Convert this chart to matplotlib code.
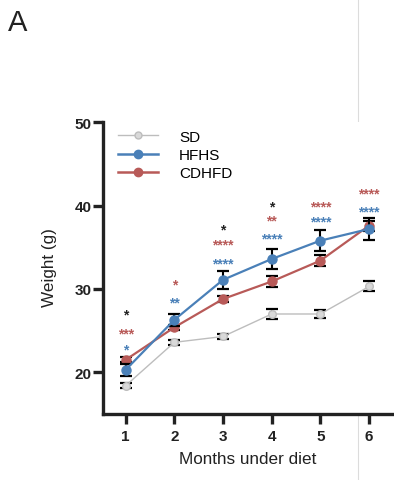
import matplotlib
matplotlib.use("Agg")
import matplotlib.pyplot as plt
from matplotlib.lines import Line2D

plt.rcParams['font.family'] = ['Liberation Sans', 'DejaVu Sans']

# Body weight over time for three diets (mean ± SEM)
months = [1, 2, 3, 4, 5, 6]
groups = ["SD", "HFHS", "CDHFD"]

sd_mean = [18.4, 23.6, 24.3, 27.0, 27.0, 30.3]
sd_err = [0.3, 0.3, 0.3, 0.6, 0.45, 0.6]

hfhs_mean = [20.3, 26.3, 31.1, 33.6, 35.8, 37.2]
hfhs_err = [0.7, 0.7, 1.1, 1.25, 1.3, 1.3]

cdhfd_mean = [21.5, 25.4, 28.8, 30.9, 33.4, 37.6]
cdhfd_err = [0.3, 0.3, 0.4, 0.7, 0.65, 0.6]

# Significance marks per month: (label, height in g)
hfhs_sig = [("*", 23.2), ("**", 28.9), ("****", 33.6), ("****", 36.6), ("****", 38.6), ("****", 39.8)]
cdhfd_sig = [("***", 25.2), ("*", 31.0), ("****", 35.8), ("**", 38.7), ("****", 40.4), ("****", 42.0)]
between_sig = [("*", 27.4), None, ("*", 37.6), ("*", 40.4), None, None]

y_ticks = [20, 30, 40, 50]

c_sd = "#bdbdbd"
c_hfhs = "#4a80b8"
c_cdhfd = "#b85a58"

fig = plt.figure(figsize=(3.94, 4.81), dpi=100)
ax = fig.add_axes([103.3 / 394, 66 / 481, (394 - 103.3) / 394, (415 - 123.3) / 481])

ax.errorbar(months, sd_mean, yerr=sd_err, color=c_sd, lw=1.0, marker="o", ms=5.5,
            mfc="#d9d9d9", mec=c_sd, ecolor="black", elinewidth=1.5, capsize=4, capthick=1.6,
            label=groups[0], zorder=3)
ax.errorbar(months, cdhfd_mean, yerr=cdhfd_err, color=c_cdhfd, lw=1.6, marker="o", ms=6.5,
            mfc=c_cdhfd, mec=c_cdhfd, ecolor="black", elinewidth=1.5, capsize=4, capthick=1.6,
            label=groups[2], zorder=4)
ax.errorbar(months, hfhs_mean, yerr=hfhs_err, color=c_hfhs, lw=1.6, marker="o", ms=6.5,
            mfc=c_hfhs, mec=c_hfhs, ecolor="black", elinewidth=1.5, capsize=4, capthick=1.6,
            label=groups[1], zorder=5)

def put_marks(marks, color):
    for m, item in zip(months, marks):
        if item is None:
            continue
        txt, yv = item
        ax.annotate(txt, (m, yv), xytext=(0, -5.8), textcoords="offset points",
                    ha="center", va="baseline", color=color, fontsize=10,
                    fontweight="bold")

put_marks(hfhs_sig, c_hfhs)
put_marks(cdhfd_sig, c_cdhfd)
put_marks(between_sig, "#222222")

ax.set_xlim(0.54, 6.513)
ax.set_ylim(15, 50)
ax.set_xticks(months)
ax.set_yticks(y_ticks)
ax.tick_params(axis="both", which="major", direction="out", width=2.4, colors="#222222",
               labelsize=11)
ax.tick_params(axis="y", length=7, pad=1.5)
ax.tick_params(axis="x", length=7, pad=4)
for lab in ax.get_xticklabels() + ax.get_yticklabels():
    lab.set_fontweight("bold")

for s in ["top", "right"]:
    ax.spines[s].set_visible(False)
for s in ["left", "bottom"]:
    ax.spines[s].set_linewidth(2.4)
    ax.spines[s].set_color("#222222")
    ax.spines[s].set_capstyle("projecting")

ax.set_xlabel("Months under diet", fontsize=12.3, color="#222222")
ax.set_ylabel("Weight (g)", fontsize=12.3, color="#222222")
ax.xaxis.set_label_coords((248 - 103.3) / 290.7, -(452 - 415) / 291.7)
ax.yaxis.set_label_coords(-(103.3 - 57) / 290.7, (415 - 268) / 291.7)

handles = [
    Line2D([], [], color=c_sd, lw=1.0, marker="o", ms=5, mfc="#d9d9d9", mec=c_sd),
    Line2D([], [], color=c_hfhs, lw=1.8, marker="o", ms=6, mfc=c_hfhs, mec=c_hfhs),
    Line2D([], [], color=c_cdhfd, lw=1.8, marker="o", ms=6, mfc=c_cdhfd, mec=c_cdhfd),
]
ax.legend(handles, groups, loc="upper left", bbox_to_anchor=(0.05, 0.975),
          frameon=False, fontsize=11, handlelength=2.6, handletextpad=1.4,
          labelspacing=0.28, borderpad=0, borderaxespad=0)

fig.text(8 / 394, 1 - 31 / 481, "A", fontsize=21, color="#222222", va="baseline")

fig.add_artist(Line2D([358 / 394, 358 / 394], [0, 1], transform=fig.transFigure,
                      color="#dcdcdc", lw=0.8, zorder=0))

fig.savefig("out.png", dpi=100, facecolor="white")
